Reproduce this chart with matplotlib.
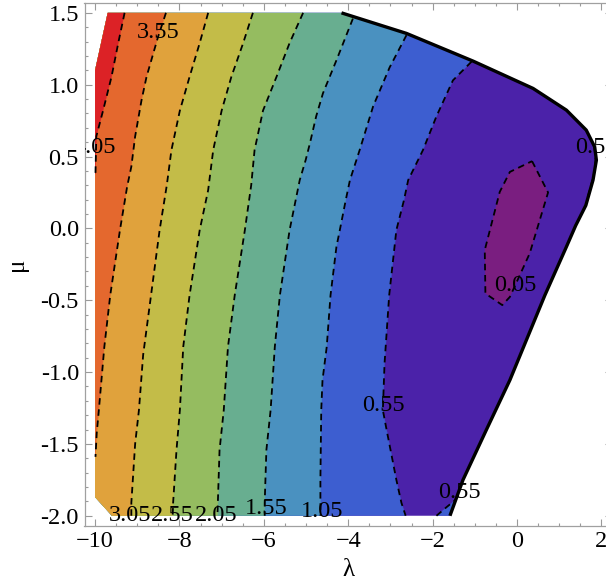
import numpy as np
import matplotlib
matplotlib.use("Agg")
import matplotlib.pyplot as plt
from matplotlib.patches import Polygon
from matplotlib.ticker import MultipleLocator, FormatStrFormatter

plt.rcParams['font.family'] = ['Liberation Serif', 'DejaVu Serif']

# ---------------- data ----------------
levels = [0.05, 0.55, 1.05, 1.55, 2.05, 2.55, 3.05, 3.55, 4.05]
band_colors = ['#7A1E80', '#4B22A9', '#3D5ED0', '#4A91C0', '#68AE90',
               '#95BC60', '#C3BC48', '#E0A23C', '#E4682E', '#DC2226']

# contour lines, (lambda, mu), ordered from top to bottom
l405_lam = [-9.30, -9.45, -9.61, -9.81, -9.97, -9.99]
l405_mu = [1.50, 1.29, 1.055, 0.82, 0.64, 0.38]

l355_lam = [-8.32, -8.51, -8.78, -8.90, -9.05, -9.14, -9.24, -9.41, -9.64, -9.78, -9.91, -9.96, -9.99]
l355_mu = [1.50, 1.33, 1.055, 0.89, 0.64, 0.43, 0.29, -0.012, -0.465, -0.824, -1.265, -1.425, -1.59]

l305_lam = [-7.32, -7.52, -7.76, -7.99, -8.19, -8.30, -8.47, -8.68, -8.86, -8.96, -9.05, -9.14, -9.14]
l305_mu = [1.50, 1.29, 1.055, 0.82, 0.545, 0.30, -0.012, -0.48, -0.88, -1.265, -1.50, -1.91, -2.00]

l255_lam = [-6.26, -6.49, -6.77, -7.00, -7.20, -7.32, -7.52, -7.76, -7.91, -7.99, -8.07, -8.15, -8.16]
l255_mu = [1.50, 1.29, 1.055, 0.82, 0.545, 0.266, -0.012, -0.465, -0.824, -1.265, -1.543, -1.91, -2.00]

l205_lam = [-5.07, -5.39, -5.70, -6.02, -6.22, -6.30, -6.45, -6.69, -6.85, -6.95, -7.05, -7.09, -7.10]
l205_mu = [1.50, 1.29, 1.055, 0.82, 0.545, 0.30, -0.012, -0.465, -0.824, -1.265, -1.543, -1.91, -2.00]

l155_lam = [-3.89, -4.28, -4.60, -4.76, -4.91, -5.01, -5.15, -5.39, -5.62, -5.74, -5.84, -5.94, -5.98, -5.98]
l155_mu = [1.46, 1.17, 0.94, 0.78, 0.59, 0.475, 0.336, -0.012, -0.465, -0.824, -1.265, -1.543, -1.91, -2.00]

l105_lam = [-2.62, -3.02, -3.41, -3.73, -3.96, -4.06, -4.20, -4.28, -4.42, -4.51, -4.61, -4.64, -4.66, -4.66]
l105_mu = [1.345, 1.12, 0.85, 0.545, 0.336, 0.196, -0.012, -0.128, -0.465, -0.824, -1.056, -1.265, -1.75, -2.00]

l055_lam = [-1.08, -1.52, -1.91, -2.23, -2.58, -2.68, -2.86, -3.03, -3.14, -3.18, -3.09, -2.86, -2.74, -2.64]
l055_mu = [1.16, 1.03, 0.78, 0.545, 0.336, 0.196, -0.012, -0.465, -0.94, -1.265, -1.404, -1.75, -1.91, -2.00]

l055b_lam = [-1.91, -1.67, -1.46]
l055b_mu = [-2.00, -1.94, -1.89]

l055c_lam = [1.83, 1.86, 1.84, 1.78, 1.66]
l055c_mu = [0.57, 0.48, 0.40, 0.33, 0.20]

l005_lam = [0.355, 0.735, 0.30, -0.17, -0.35, -0.75, -0.765, -0.41, -0.17, 0.355]
l005_mu = [0.468, 0.25, -0.174, -0.477, -0.534, -0.453, -0.151, 0.254, 0.393, 0.468]

# outer boundary (thick black curve)
bnd_lam = [-4.16, -2.62, -1.04, 0.38, 1.17, 1.64, 1.84, 1.88, 1.80, 1.63, 1.39, 1.17,
           0.66, -0.17, -0.73, -1.28, -1.59]
bnd_mu = [1.50, 1.357, 1.164, 0.974, 0.823, 0.684, 0.567, 0.475, 0.336, 0.16, 0.02, -0.128,
          -0.465, -1.056, -1.404, -1.75, -2.00]

# corners of the sampled domain
corner_tl_lam, corner_tl_mu = [-10.0, -9.70], [1.10, 1.50]
corner_bl_lam, corner_bl_mu = [-9.60, -10.0], [-2.00, -1.87]

# contour labels
lab_text = ['4.05', '3.55', '3.05', '2.55', '2.05', '1.55', '1.05', '0.55', '0.55', '0.05', '0.55']
lab_lam = [-10.0, -8.50, -9.18, -8.17, -7.12, -5.95, -4.63, -3.16, -1.36, -0.03, 1.88]
lab_mu = [0.56, 1.36, -2.00, -2.00, -2.00, -1.95, -1.97, -1.23, -1.84, -0.40, 0.56]

xticks = [-10, -8, -6, -4, -2, 0, 2]
yticks = [-2.0, -1.5, -1.0, -0.5, 0.0, 0.5, 1.0, 1.5]

# ---------------- figure ----------------
W, H = 606, 582
fig = plt.figure(figsize=(W / 100, H / 100), dpi=100)
ax = fig.add_axes([84.5 / W, 56.2 / H, 527.5 / W, 523.0 / H])
ax.set_xlim(-10.25, 2.25)
ax.set_ylim(-2.07, 1.57)

# domain polygon
dom = list(zip(corner_tl_lam, corner_tl_mu)) + list(zip(bnd_lam, bnd_mu)) + \
      list(zip(corner_bl_lam, corner_bl_mu))
region = Polygon(dom, closed=True, facecolor=band_colors[1], edgecolor='none', zorder=1)
ax.add_patch(region)


def fill_left(lam, mu, color, from_boundary):
    big_l, big_r, top, bot = -11.0, 5.0, 1.8, -2.3
    if from_boundary:
        verts = [(big_l, top), (big_r, top), (big_r, mu[0])]
    else:
        verts = [(big_l, top), (lam[0], top)]
    verts += list(zip(lam, mu))
    if mu[-1] <= -1.99:
        verts += [(lam[-1], bot), (big_l, bot)]
    else:
        verts += [(big_l, mu[-1])]
    p = Polygon(verts, closed=True, facecolor=color, edgecolor=color, lw=0.3, zorder=2)
    ax.add_patch(p)
    p.set_clip_path(region)


lines = [
    (l055_lam, l055_mu, True),
    (l105_lam, l105_mu, True),
    (l155_lam, l155_mu, True),
    (l205_lam, l205_mu, False),
    (l255_lam, l255_mu, False),
    (l305_lam, l305_mu, False),
    (l355_lam, l355_mu, False),
    (l405_lam, l405_mu, False),
]
for i, (lam, mu, fb) in enumerate(lines):
    fill_left(lam, mu, band_colors[i + 2], fb)

# small blue pocket bottom right (above 0.55)
pocket = Polygon(list(zip(l055b_lam, l055b_mu)) + [(-1.0, l055b_mu[-1]), (-1.0, -2.3), (l055b_lam[0], -2.3)],
                 closed=True, facecolor=band_colors[2], edgecolor='none', zorder=2)
ax.add_patch(pocket)
pocket.set_clip_path(region)

# minimum pocket (below 0.05)
inner = Polygon(list(zip(l005_lam, l005_mu)), closed=True, facecolor=band_colors[0],
                edgecolor='none', zorder=2)
ax.add_patch(inner)

# dashed contour lines
dash = dict(color='black', lw=1.3, ls=(0, (3.6, 2.6)), zorder=3)
for lam, mu, _ in lines:
    ax.plot(lam, mu, **dash)
ax.plot(l055b_lam, l055b_mu, **dash)
ax.plot(l055c_lam, l055c_mu, **dash)
ax.plot(l005_lam, l005_mu, **dash)

# boundary
ax.plot(bnd_lam, bnd_mu, color='black', lw=2.4, solid_capstyle='butt', zorder=4)

# contour labels (clipped to the frame, as in the reference)
for t, x, y in zip(lab_text, lab_lam, lab_mu):
    tx = ax.text(x, y, t, ha='center', va='center', fontsize=17.5, zorder=5)
    tx.set_clip_on(True)
    tx.set_clip_box(ax.bbox)

# axes styling
ax.set_xticks(xticks)
ax.set_yticks(yticks)
ax.xaxis.set_minor_locator(MultipleLocator(0.5))
ax.yaxis.set_minor_locator(MultipleLocator(0.1))
ax.yaxis.set_major_formatter(FormatStrFormatter('%.1f'))
ax.tick_params(which='both', direction='in', top=True, right=True, color='#9a9a9a',
               labelsize=17.5, width=0.8)
ax.tick_params(which='major', length=5, pad=4)
ax.tick_params(which='minor', length=2.5)
for s in ax.spines.values():
    s.set_color('#a0a0a0')
    s.set_linewidth(0.9)
ax.set_xlabel('λ', fontsize=18, labelpad=5)
ax.set_ylabel('μ', fontsize=18, labelpad=9)

fig.savefig('out.png', dpi=100)
